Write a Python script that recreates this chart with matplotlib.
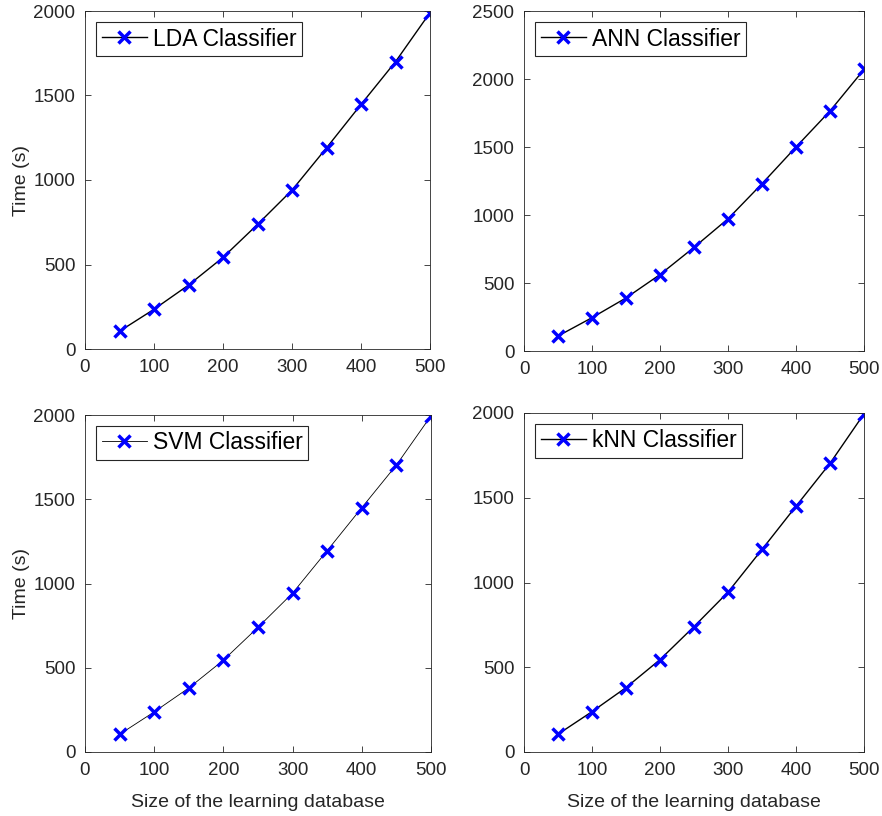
import matplotlib.pyplot as plt

plt.rcParams['font.family'] = ['Liberation Sans', 'DejaVu Sans']

# learning database sizes
sizes = [50, 100, 150, 200, 250, 300, 350, 400, 450, 500]

# computation time (s) for each classifier
lda_time = [105, 235, 378, 542, 737, 940, 1190, 1447, 1700, 1990]
ann_time = [110, 245, 390, 562, 762, 972, 1230, 1500, 1765, 2070]
svm_time = [105, 238, 380, 545, 740, 943, 1195, 1450, 1703, 1995]
knn_time = [105, 238, 380, 545, 740, 943, 1195, 1450, 1703, 1995]

labels = ['LDA Classifier', 'ANN Classifier', 'SVM Classifier', 'kNN Classifier']
series = [lda_time, ann_time, svm_time, knn_time]
ymax = [2000, 2500, 2000, 2000]
line_w = [1.0, 1.0, 0.6, 1.0]

W, H = 882, 816
fig = plt.figure(figsize=(W / 100, H / 100), dpi=100)

# axes boxes in pixels: left, top, right, bottom
boxes = [(85, 11, 430, 349), (524, 11, 864, 351),
         (85, 415, 431, 752), (524, 413, 864, 752)]

for i in range(4):
    l, t, r, b = boxes[i]
    ax = fig.add_axes([l / W, 1 - b / H, (r - l) / W, (b - t) / H])
    ax.plot(sizes, series[i], color='black', lw=line_w[i],
            marker='x', ms=9, mew=2.5, mec=(0, 0, 1), label=labels[i])
    ax.set_xlim(0, 500)
    ax.set_ylim(0, ymax[i])
    ax.set_xticks(range(0, 501, 100))
    ax.set_yticks(range(0, ymax[i] + 1, 500))
    ax.tick_params(direction='in', length=4, width=0.6, labelsize=13.5,
                   colors='#262626', top=True, right=True, pad=7)
    for s in ax.spines.values():
        s.set_linewidth(0.6)
        s.set_color('#262626')
    leg = ax.legend(loc='upper left', fontsize=16.5, fancybox=False,
                    framealpha=1, edgecolor='#262626', borderpad=0.22,
                    handlelength=2.0, handletextpad=0.25,
                    borderaxespad=0.5)
    leg.get_frame().set_linewidth(0.8)
    if i % 2 == 0:
        ax.set_ylabel('Time (s)', fontsize=14, color='#262626', labelpad=2)
    if i >= 2:
        ax.set_xlabel('Size of the learning database', fontsize=14,
                      color='#262626', labelpad=11)

fig.savefig('out.png', dpi=100)
